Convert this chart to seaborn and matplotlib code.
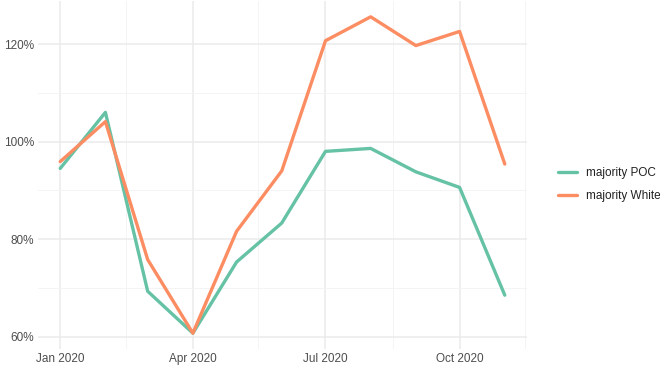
import pandas as pd
import matplotlib as mpl
import matplotlib.pyplot as plt
import matplotlib.dates as mdates
import matplotlib.ticker as mticker
import seaborn as sns

months = pd.date_range("2020-01-01", "2020-11-01", freq="MS")
poc = [94.5, 106.0, 69.3, 60.7, 75.3, 83.3, 98.0, 98.6, 93.8, 90.6, 68.5]
white = [95.9, 104.1, 75.8, 60.7, 81.6, 94.0, 120.7, 125.6, 119.7, 122.6, 95.4]
groups = ["majority POC", "majority White"]
colors = ["#66c2a5", "#fc8d62"]

df = pd.DataFrame({
    "month": list(months) * 2,
    "value": poc + white,
    "group": [groups[0]] * len(poc) + [groups[1]] * len(white),
})

sns.set_theme(style="white")
plt.rcParams["font.family"] = ["Liberation Sans", "DejaVu Sans"]

fig = plt.figure(figsize=(6.6, 3.69), dpi=100)
ax = fig.add_axes([38 / 660, 1 - 349 / 369, (527 - 38) / 660, 348 / 369])

sns.lineplot(data=df, x="month", y="value", hue="group", palette=colors,
             linewidth=2.4, ax=ax, legend=False)

# major / minor date ticks like ggplot
ax.xaxis.set_major_locator(mdates.MonthLocator(bymonth=[1, 4, 7, 10]))
ax.xaxis.set_major_formatter(mdates.DateFormatter("%b %Y"))
minor_dates = pd.to_datetime(["2020-02-15", "2020-05-16", "2020-08-16", "2020-11-15"])
ax.xaxis.set_minor_locator(mticker.FixedLocator(mdates.date2num(minor_dates)))
ax.yaxis.set_major_locator(mticker.MultipleLocator(20))
ax.yaxis.set_minor_locator(mticker.MultipleLocator(10))
ax.yaxis.set_major_formatter(mticker.FuncFormatter(lambda v, p: f"{v:.0f}%"))

ax.grid(which="major", color="#ebebeb", linewidth=1.1)
ax.grid(which="minor", color="#f3f3f3", linewidth=0.6)
ax.set_axisbelow(True)
for s in ax.spines.values():
    s.set_visible(False)
ax.tick_params(which="both", length=0, labelsize=8.5, labelcolor="#4d4d4d", pad=3)
ax.set_xlabel("")
ax.set_ylabel("")

handles = [mpl.lines.Line2D([], [], color=c, linewidth=2.4) for c in colors]
fig.legend(handles, groups, loc="center left", bbox_to_anchor=(552 / 660, 0.5),
           frameon=False, fontsize=8.5, handlelength=1.6, handletextpad=0.8,
           labelspacing=0.9, borderpad=0, labelcolor="#222222")

fig.savefig("out.png", dpi=100, facecolor="white")
